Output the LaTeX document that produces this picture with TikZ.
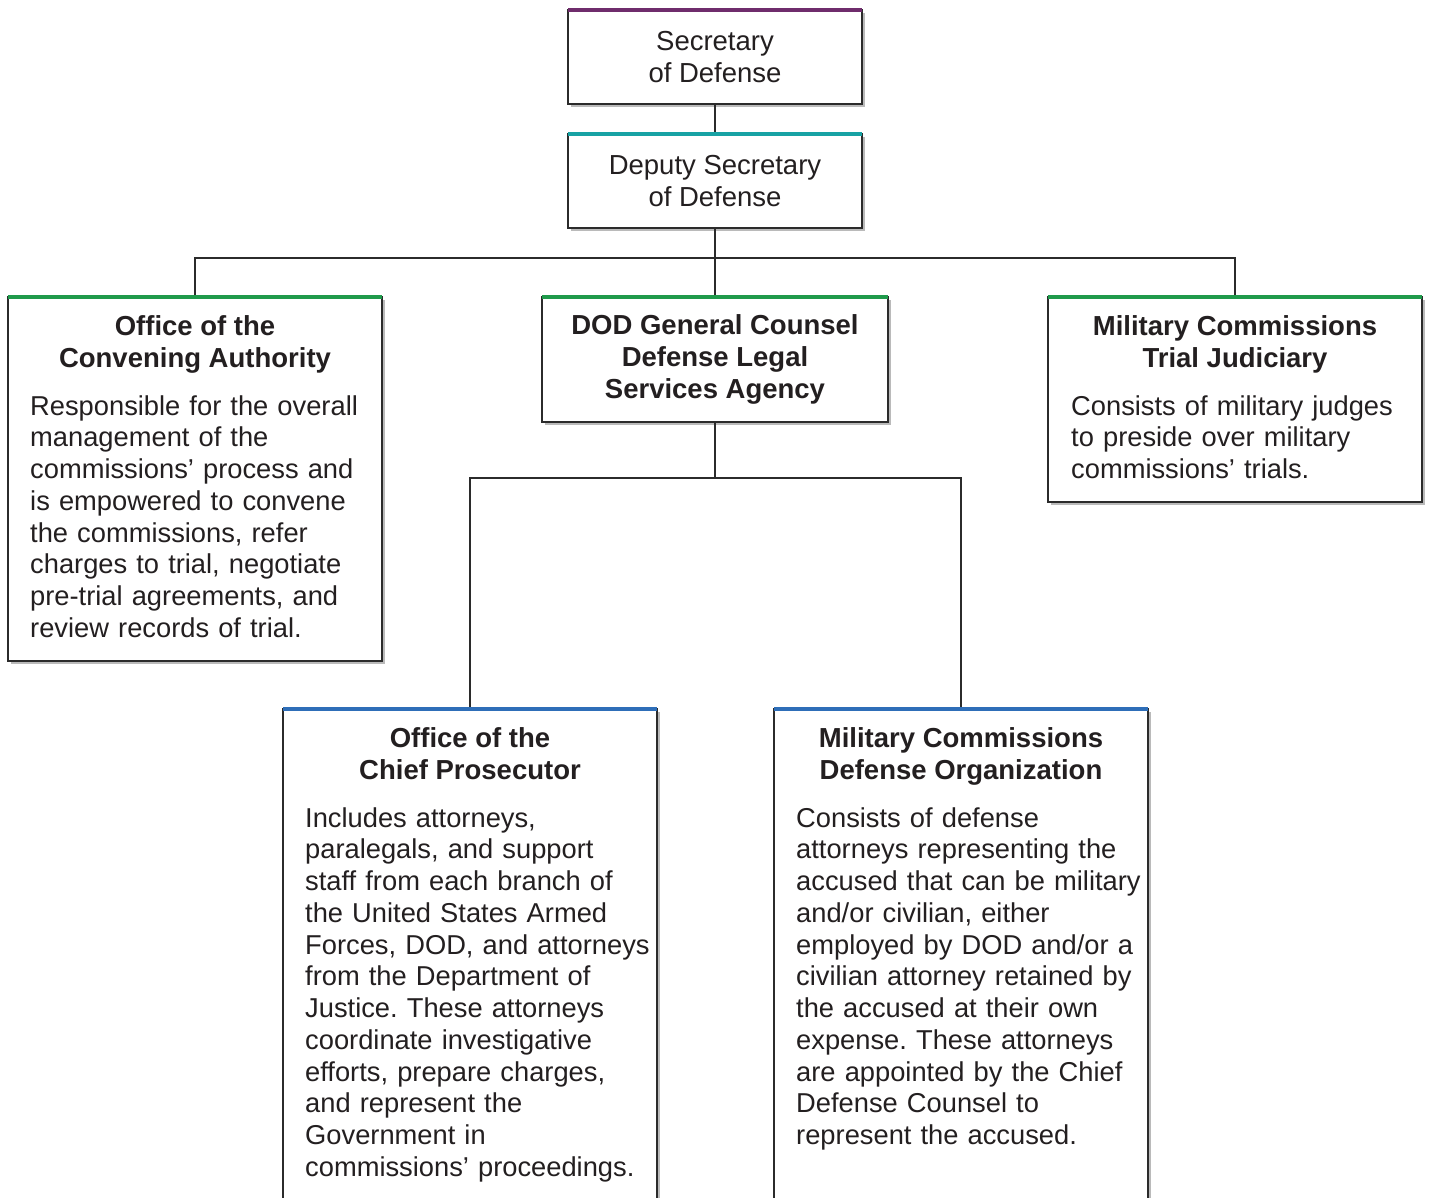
\documentclass[tikz,border=0pt]{standalone}
\usepackage{fontspec}
\setmainfont{Liberation Sans}
\usetikzlibrary{shadows,calc}
\definecolor{txt}{HTML}{231F20}
\definecolor{bord}{HTML}{2B2B2B}
\definecolor{cpurple}{HTML}{6F2C6C}
\definecolor{cteal}{HTML}{17A2A4}
\definecolor{cgreen}{HTML}{1F9A4B}
\definecolor{cblue}{HTML}{2E6EB8}
\frenchspacing
\begin{document}
\begin{tikzpicture}[x=1pt,y=-1pt,
  box/.style={draw=bord, line width=1.8pt, fill=white, anchor=north west, inner sep=0pt, outer sep=0pt,
    drop shadow={shadow xshift=3pt, shadow yshift=-3pt, opacity=0.45, fill=black!60}},
  conn/.style={draw=bord, line width=2.6pt},
  topline/.style={line width=3.5pt},
  ttl/.style={font=\fontsize{27.5}{32}\selectfont\bfseries, text=txt, align=center, anchor=north, inner sep=0pt},
  plain/.style={font=\fontsize{27.5}{32}\selectfont, text=txt, align=center, inner sep=0pt},
  body/.style={font=\fontsize{27.3}{31.75}\selectfont, text=txt, align=left, text width=420pt, anchor=north west, inner sep=0pt},
]
\clip (0,0) rectangle (1432,1197);
\fill[white] (0,0) rectangle (1432,1197);

% boxes
\node[box, minimum width=294pt, minimum height=94pt] (sec) at (568,10) {};
\node[box, minimum width=294pt, minimum height=94pt] (dep) at (568,134) {};
\node[box, minimum width=374pt, minimum height=364pt] (oca) at (8,297) {};
\node[box, minimum width=346pt, minimum height=125pt] (dca) at (542,297) {};
\node[box, minimum width=374pt, minimum height=205pt] (tj) at (1048,297) {};
\node[box, minimum width=374pt, minimum height=520pt] (ocp) at (283,709) {};
\node[box, minimum width=374pt, minimum height=520pt] (mcdo) at (774,709) {};

% connectors
\draw[conn] (sec.south) -- (dep.north);
\draw[conn] (dep.south) -- ++(0,30) -| (oca.north);
\draw[conn] (dep.south) -- (dca.north);
\draw[conn] (dep.south) -- ++(0,30) -| (tj.north);
\draw[conn] (dca.south) -- ++(0,56) -| (ocp.north);
\draw[conn] (dca.south) -- ++(0,56) -| (mcdo.north);

% coloured top edges
\draw[topline, cpurple] (sec.north west) -- (sec.north east);
\draw[topline, cteal] (dep.north west) -- (dep.north east);
\draw[topline, cgreen] (oca.north west) -- (oca.north east);
\draw[topline, cgreen] (dca.north west) -- (dca.north east);
\draw[topline, cgreen] (tj.north west) -- (tj.north east);
\draw[topline, cblue] (ocp.north west) -- (ocp.north east);
\draw[topline, cblue] (mcdo.north west) -- (mcdo.north east);

% texts
\node[plain] (sect) at (sec.center) {Secretary\\of Defense};
\node[plain] (dept) at (dep.center) {Deputy Secretary\\of Defense};
\node[plain, font=\fontsize{27.5}{32}\selectfont\bfseries] (dcat) at (dca.center) {DOD General Counsel\\Defense Legal\\Services Agency};

\node[ttl] (ocat) at ($(oca.north)+(0,15.6)$) {\strut Office of the\\Convening Authority};
\node[body] (ocab) at ($(oca.north west)+(22,95.8)$) {\strut Responsible for the overall\\management of the\\commissions’ process and\\is empowered to convene\\the commissions, refer\\charges to trial, negotiate\\pre-trial agreements, and\\review records of trial.};

\node[ttl] (tjt) at ($(tj.north)+(0,15.6)$) {\strut Military Commissions\\Trial Judiciary};
\node[body] (tjb) at ($(tj.north west)+(23,95.8)$) {\strut Consists of military judges\\to preside over military\\commissions’ trials.};

\node[ttl] (ocpt) at ($(ocp.north)+(0,15.6)$) {\strut Office of the\\Chief Prosecutor};
\node[body] (ocpb) at ($(ocp.north west)+(22,95.8)$) {\strut Includes attorneys,\\paralegals, and support\\staff from each branch of\\the United States Armed\\Forces, DOD, and attorneys\\from the Department of\\Justice. These attorneys\\coordinate investigative\\efforts, prepare charges,\\and represent the\\Government in\\commissions’ proceedings.};

\node[ttl] (mcdot) at ($(mcdo.north)+(0,15.6)$) {\strut Military Commissions\\Defense Organization};
\node[body] (mcdob) at ($(mcdo.north west)+(22,95.8)$) {\strut Consists of defense\\attorneys representing the\\accused that can be military\\and/or civilian, either\\employed by DOD and/or a\\civilian attorney retained by\\the accused at their own\\expense. These attorneys\\are appointed by the Chief\\Defense Counsel to\\represent the accused.};
\end{tikzpicture}
\end{document}
